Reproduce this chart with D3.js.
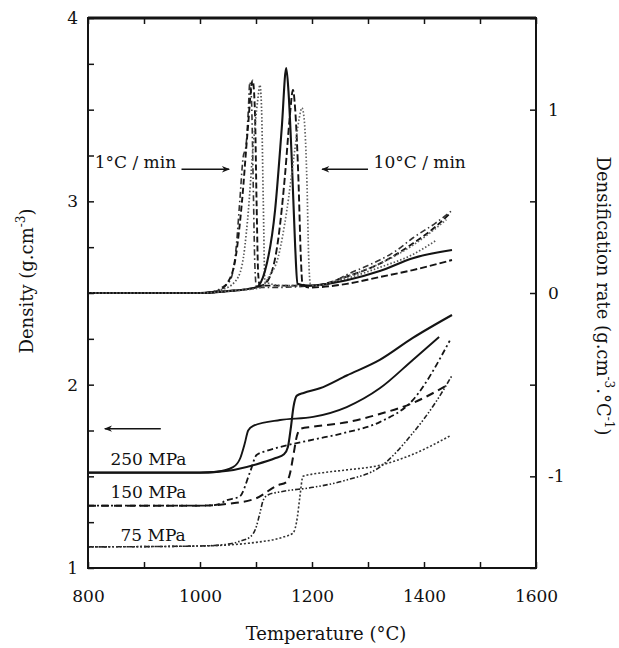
<!DOCTYPE html>
<html>
<head>
<meta charset="utf-8">
<script src="https://cdn.jsdelivr.net/npm/d3@7"></script>
<style>
  html, body { margin: 0; padding: 0; background: #fff; }
  svg { display: block; }
  text { font-family: "DejaVu Serif", "Liberation Serif", serif; fill: #111; }
</style>
</head>
<body>
<svg id="chart" width="619" height="648"></svg>
<script>
// ---- Axis ticks ----
const tempTicks = [800, 900, 1000, 1100, 1200, 1300, 1400, 1500, 1600];
const tempLabels = [800, 1000, 1200, 1400, 1600];
const densityTicks = d3.range(1, 4.001, 0.25);
const densityLabels = [1, 2, 3, 4];
const rateTicks = [-1.5, -1, -0.5, 0, 0.5, 1, 1.5];
const rateLabels = [-1, 0, 1];

// ---- Densification rate (g.cm-3.°C-1) vs temperature (°C) ----
// 1 °C/min
const rate1_250 = [[800,0],[1000,0],[1027,0.01],[1039,0.03],[1054,0.07],[1064,0.23],[1071,0.5],[1077,0.74],[1082,0.8],[1086,0.98],[1089,1.15],[1092,1.05],[1095,0.6],[1098,0.15],[1101,0.03],[1130,0.03],[1200,0.04],[1230,0.05],[1262,0.1],[1300,0.15],[1321,0.18],[1350,0.23],[1380,0.3],[1420,0.38],[1450,0.45]];
const rate1_150 = [[800,0],[1000,0],[1030,0.01],[1050,0.06],[1064,0.2],[1075,0.5],[1085,0.88],[1094,1.16],[1098,1.0],[1101,0.5],[1104,0.1],[1107,0.04],[1150,0.04],[1200,0.04],[1262,0.09],[1321,0.16],[1380,0.27],[1420,0.36],[1445,0.43]];
const rate1_75 = [[800,0],[1000,0],[1040,0.02],[1062,0.06],[1075,0.15],[1085,0.4],[1095,0.8],[1103,1.05],[1107,1.135],[1110,1.0],[1113,0.5],[1116,0.06],[1150,0.04],[1200,0.04],[1262,0.08],[1321,0.14],[1380,0.21],[1423,0.29]];
// 10 °C/min
const rate10_250 = [[800,0],[1000,0],[1050,0.01],[1100,0.03],[1116,0.12],[1134,0.45],[1146,0.9],[1154,1.227],[1158,1.1],[1164,0.72],[1170,0.25],[1174,0.05],[1190,0.04],[1262,0.07],[1321,0.12],[1380,0.19],[1450,0.235]];
const rate10_150 = [[800,0],[1000,0],[1050,0.01],[1110,0.04],[1125,0.09],[1140,0.3],[1152,0.65],[1160,0.95],[1166,1.107],[1170,1.0],[1176,0.6],[1180,0.2],[1183,0.05],[1195,0.03],[1262,0.05],[1321,0.087],[1380,0.125],[1450,0.18]];
const rate10_75 = [[800,0],[1000,0],[1050,0.01],[1110,0.03],[1121,0.08],[1140,0.2],[1155,0.45],[1168,0.75],[1177,0.95],[1182,1.01],[1186,0.95],[1191,0.6],[1194,0.2],[1197,0.05],[1205,0.04],[1262,0.09],[1321,0.16],[1380,0.26],[1440,0.40]];

// ---- Density (g.cm-3) vs temperature (°C) ----
const dens10_250 = [[800,1.52],[1000,1.52],[1050,1.53],[1100,1.565],[1135,1.6],[1150,1.62],[1157,1.66],[1162,1.76],[1167,1.88],[1173,1.94],[1185,1.955],[1214,1.98],[1262,2.05],[1321,2.135],[1380,2.255],[1450,2.38]];
const dens1_250 = [[800,1.52],[1000,1.52],[1030,1.525],[1059,1.55],[1072,1.6],[1080,1.68],[1086,1.75],[1095,1.775],[1143,1.807],[1202,1.824],[1262,1.878],[1321,1.98],[1380,2.135],[1427,2.26]];
const dens1_150 = [[800,1.34],[1000,1.34],[1030,1.345],[1048,1.37],[1071,1.39],[1089,1.52],[1101,1.616],[1120,1.64],[1143,1.66],[1202,1.7],[1262,1.74],[1321,1.796],[1380,1.916],[1446,2.24]];
const dens10_150 = [[800,1.34],[1000,1.34],[1050,1.35],[1100,1.38],[1138,1.45],[1155,1.47],[1161,1.52],[1167,1.62],[1173,1.72],[1180,1.76],[1200,1.77],[1262,1.795],[1321,1.84],[1380,1.9],[1443,2.0]];
const dens1_75 = [[800,1.115],[1000,1.12],[1050,1.13],[1075,1.15],[1090,1.17],[1100,1.22],[1107,1.3],[1113,1.37],[1122,1.4],[1143,1.415],[1202,1.44],[1262,1.48],[1321,1.55],[1380,1.736],[1420,1.9],[1450,2.05]];
const dens10_75 = [[800,1.115],[1000,1.12],[1100,1.14],[1150,1.17],[1166,1.19],[1174,1.28],[1178,1.38],[1184,1.5],[1220,1.52],[1262,1.535],[1321,1.56],[1380,1.62],[1446,1.72]];

const pressureLabels = ["250 MPa", "150 MPa", "75 MPa"];
const pressureLabelDensity = [1.56, 1.38, 1.15];

// ---- Layout ----
const svg = d3.select("#chart");
const x = d3.scaleLinear().domain([800, 1600]).range([88, 536]);
const yD = d3.scaleLinear().domain([1, 4]).range([568, 18]);
const yR = d3.scaleLinear().domain([-1.5, 1.5]).range([568, 18]);

const ink = "#141414";
const serif = "'DejaVu Serif', 'Liberation Serif', serif";

// line styles per curve
const rateCurves = [
  { data: rate1_250, dash: "6,3,1.5,3", width: 1.6, color: "#333" },
  { data: rate1_150, dash: "6,3", width: 1.9, color: ink },
  { data: rate1_75, dash: "1.5,2", width: 1.7, color: "#555" },
  { data: rate10_250, dash: null, width: 2.1, color: ink },
  { data: rate10_150, dash: "7,3", width: 1.9, color: ink },
  { data: rate10_75, dash: "1.5,2", width: 1.7, color: "#666" }
];
const densCurves = [
  { data: dens10_250, dash: null, width: 2.1, color: ink },
  { data: dens1_250, dash: null, width: 1.9, color: ink },
  { data: dens1_150, dash: "6,3,2,3", width: 1.8, color: ink },
  { data: dens10_150, dash: "8,5", width: 2, color: ink },
  { data: dens1_75, dash: "5,2,1.5,2,1.5,2", width: 1.6, color: "#222" },
  { data: dens10_75, dash: "2,2", width: 1.6, color: "#333" }
];

const rateLine = d3.line().x(d => x(d[0])).y(d => yR(d[1])).curve(d3.curveMonotoneX);
const densLine = d3.line().x(d => x(d[0])).y(d => yD(d[1])).curve(d3.curveMonotoneX);

const curves = svg.append("g").attr("fill", "none").attr("stroke-linejoin", "round");
rateCurves.forEach(c => {
  curves.append("path").attr("d", rateLine(c.data))
    .attr("stroke", c.color).attr("stroke-width", c.width)
    .attr("stroke-dasharray", c.dash);
});
densCurves.forEach(c => {
  curves.append("path").attr("d", densLine(c.data))
    .attr("stroke", c.color).attr("stroke-width", c.width)
    .attr("stroke-dasharray", c.dash);
});

// ---- Axes ----
const fontSize = 17;
function styleAxis(g) {
  g.select(".domain").remove();
  g.selectAll(".tick line").attr("stroke", ink).attr("stroke-width", 1.5);
  g.selectAll("text").attr("font-size", fontSize)
    .attr("font-family", serif).attr("fill", ink);
}

// bottom
svg.append("g").attr("transform", `translate(0,${yD.range()[0]})`)
  .call(d3.axisBottom(x).tickValues(tempTicks).tickSize(-6).tickFormat(""))
  .call(styleAxis);
svg.append("g").attr("transform", `translate(0,${yD.range()[0]})`)
  .call(d3.axisBottom(x).tickValues(tempLabels).tickSize(0).tickPadding(22).tickFormat(d3.format("d")))
  .call(styleAxis);
// top
svg.append("g").attr("transform", `translate(0,${yD.range()[1]})`)
  .call(d3.axisTop(x).tickValues(tempTicks).tickSize(-6).tickFormat(""))
  .call(styleAxis);
// left
svg.append("g").attr("transform", `translate(${x.range()[0]},0)`)
  .call(d3.axisLeft(yD).tickValues(densityTicks).tickSize(-6).tickFormat(""))
  .call(styleAxis);
svg.append("g").attr("transform", `translate(${x.range()[0]},0)`)
  .call(d3.axisLeft(yD).tickValues(densityLabels).tickSize(0).tickPadding(10).tickFormat(d3.format("d")))
  .call(styleAxis);
// right
svg.append("g").attr("transform", `translate(${x.range()[1]},0)`)
  .call(d3.axisRight(yR).tickValues(rateTicks).tickSize(-6).tickFormat(""))
  .call(styleAxis);
svg.append("g").attr("transform", `translate(${x.range()[1]},0)`)
  .call(d3.axisRight(yR).tickValues(rateLabels).tickSize(0).tickPadding(12)
    .tickFormat(d => d === -1 ? "-1" : String(d)))
  .call(styleAxis);

// frame
svg.append("rect")
  .attr("x", x.range()[0]).attr("y", yD.range()[1])
  .attr("width", x.range()[1] - x.range()[0]).attr("height", yD.range()[0] - yD.range()[1])
  .attr("fill", "none").attr("stroke", ink).attr("stroke-width", 2);
svg.append("line")
  .attr("x1", x.range()[0]).attr("x2", x.range()[1])
  .attr("y1", yD.range()[1]).attr("y2", yD.range()[1])
  .attr("stroke", ink).attr("stroke-width", 3);

// ---- Axis titles ----
svg.append("text")
  .attr("x", 326).attr("y", 640).attr("text-anchor", "middle")
  .attr("font-size", 18).text("Temperature (°C)");

const leftTitle = svg.append("text")
  .attr("transform", "translate(33,281) rotate(-90)")
  .attr("text-anchor", "middle").attr("font-size", 18);
leftTitle.append("tspan").text("Density (g.cm");
leftTitle.append("tspan").attr("font-size", 12).attr("dy", -8).text("-3");
leftTitle.append("tspan").attr("dy", 8).text(")");

const rightTitle = svg.append("text")
  .attr("transform", "translate(597,296) rotate(90)")
  .attr("text-anchor", "middle").attr("font-size", 18);
rightTitle.append("tspan").text("Densification rate (g.cm");
rightTitle.append("tspan").attr("font-size", 12).attr("dy", -8).text("-3");
rightTitle.append("tspan").attr("dy", 8).text(".°C");
rightTitle.append("tspan").attr("font-size", 12).attr("dy", -8).text("-1");
rightTitle.append("tspan").attr("dy", 8).text(")");

// ---- Annotations ----
const defs = svg.append("defs");
defs.append("marker").attr("id", "head").attr("viewBox", "0 0 10 10")
  .attr("refX", 9).attr("refY", 5).attr("markerWidth", 10).attr("markerHeight", 8)
  .attr("markerUnits", "userSpaceOnUse").attr("orient", "auto")
  .append("path").attr("d", "M0,1 L10,5 L0,9 L3,5 Z").attr("fill", ink);

function arrow(t0, v0, t1, v1, yScale) {
  svg.append("line")
    .attr("x1", x(t0)).attr("y1", yScale(v0)).attr("x2", x(t1)).attr("y2", yScale(v1))
    .attr("stroke", ink).attr("stroke-width", 1.5).attr("marker-end", "url(#head)");
}

svg.append("text").attr("x", x(812)).attr("y", yR(0.68))
  .attr("font-size", 17).text("1°C / min");
arrow(967, 0.675, 1052, 0.675, yR);

svg.append("text").attr("x", x(1310)).attr("y", yR(0.68))
  .attr("font-size", 17).text("10°C / min");
arrow(1300, 0.675, 1218, 0.675, yR);

arrow(930, 1.76, 830, 1.76, yD);

pressureLabels.forEach((label, i) => {
  svg.append("text")
    .attr("x", x(i === 2 ? 858 : 840)).attr("y", yD(pressureLabelDensity[i]))
    .attr("font-size", 17).text(label);
});
</script>
</body>
</html>
